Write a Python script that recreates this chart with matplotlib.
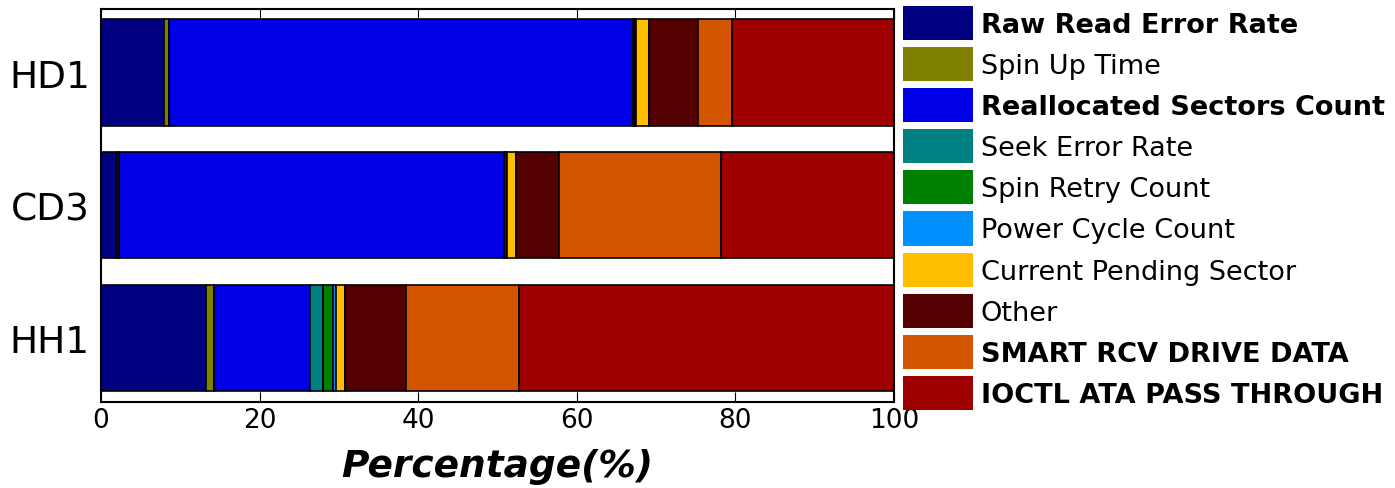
import matplotlib
matplotlib.use('Agg')
import matplotlib.pyplot as plt
import numpy as np

drives = ['HD1', 'CD3', 'HH1']
categories = ['Raw Read Error Rate', 'Spin Up Time', 'Reallocated Sectors Count',
              'Seek Error Rate', 'Spin Retry Count', 'Power Cycle Count',
              'Current Pending Sector', 'Other', 'SMART RCV DRIVE DATA',
              'IOCTL ATA PASS THROUGH']
bold_labels = {'Raw Read Error Rate', 'Reallocated Sectors Count',
               'SMART RCV DRIVE DATA', 'IOCTL ATA PASS THROUGH'}

# percentage per category, one list per drive
hd1 = [7.9, 0.7, 58.5, 0.1, 0.1, 0.1, 1.7, 6.2, 4.3, 20.4]
cd3 = [2.0, 0.3, 48.5, 0.1, 0.1, 0.2, 1.1, 5.45, 20.4, 21.85]
hh1 = [13.3, 1.0, 12.1, 1.55, 1.35, 0.3, 1.2, 7.7, 14.2, 47.3]

colors = ['#000080', '#808000', '#0000e6', '#008080', '#008000', '#0090ff',
          '#ffbf00', '#550000', '#d45500', '#9e0000']

data = np.array([hd1, cd3, hh1])
ypos = np.arange(len(drives))[::-1]

fig = plt.figure(figsize=(13.95, 4.89), dpi=100)
ax = fig.add_axes([0.0724, 0.176, 0.5685, 0.804])

left = np.zeros(len(drives))
for i, cat in enumerate(categories):
    ax.barh(ypos, data[:, i], left=left, height=0.8, color=colors[i],
            edgecolor='black', linewidth=1.2, label=cat)
    left += data[:, i]

ax.set_xlim(0, 100)
ax.set_ylim(-0.48, 2.48)
ax.set_yticks(ypos)
ax.set_yticklabels(drives, fontsize=27)
ax.set_xticks([0, 20, 40, 60, 80, 100])
ax.tick_params(axis='x', labelsize=19, direction='in', top=True, length=7)
ax.tick_params(axis='y', length=0, pad=8)
ax.set_xlabel('Percentage(%)', fontsize=27, fontweight='bold', fontstyle='italic', labelpad=11)
for s in ax.spines.values():
    s.set_linewidth(1.5)

leg = ax.legend(loc='upper left', bbox_to_anchor=(1.011, 1.0077), frameon=False,
                fontsize=19.5, handlelength=2.6, handleheight=1.56,
                labelspacing=0.26, handletextpad=0.28, borderaxespad=0,
                borderpad=0)
for h in leg.legend_handles:
    h.set_edgecolor('none')
for t in leg.get_texts():
    if t.get_text() in bold_labels:
        t.set_fontweight('bold')

fig.savefig('out.png', dpi=100)
